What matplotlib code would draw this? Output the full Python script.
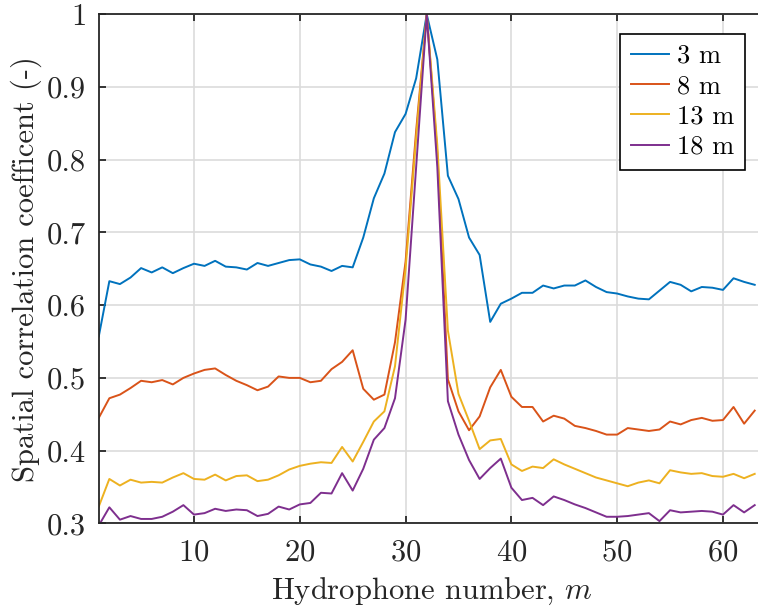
import numpy as np
import matplotlib
matplotlib.use("Agg")
import matplotlib.pyplot as plt

plt.rcParams['font.family'] = 'serif'
plt.rcParams['font.serif'] = ['cmr10', 'DejaVu Serif']
plt.rcParams['mathtext.fontset'] = 'cm'
plt.rcParams['axes.formatter.use_mathtext'] = True

# hydrophone index 1..63
hydrophone = np.arange(1, 64)

corr_3m = [0.557, 0.633, 0.629, 0.638, 0.651, 0.645, 0.652, 0.644, 0.651, 0.657,
           0.654, 0.661, 0.653, 0.652, 0.649, 0.658, 0.654, 0.658, 0.662, 0.663,
           0.656, 0.653, 0.647, 0.654, 0.652, 0.693, 0.747, 0.781, 0.838, 0.863,
           0.912, 1.000, 0.938, 0.778, 0.746, 0.693, 0.669, 0.577, 0.602, 0.609,
           0.617, 0.617, 0.627, 0.623, 0.627, 0.627, 0.634, 0.625, 0.618, 0.616,
           0.612, 0.609, 0.608, 0.620, 0.632, 0.628, 0.619, 0.625, 0.624, 0.621,
           0.637, 0.632, 0.628]

corr_8m = [0.445, 0.472, 0.477, 0.486, 0.496, 0.494, 0.497, 0.491, 0.500, 0.506,
           0.511, 0.513, 0.504, 0.496, 0.490, 0.483, 0.488, 0.502, 0.500, 0.500,
           0.494, 0.496, 0.512, 0.522, 0.538, 0.485, 0.470, 0.477, 0.549, 0.660,
           0.840, 1.000, 0.810, 0.498, 0.454, 0.428, 0.447, 0.487, 0.511, 0.474,
           0.460, 0.460, 0.440, 0.448, 0.444, 0.434, 0.431, 0.427, 0.422, 0.422,
           0.431, 0.429, 0.427, 0.429, 0.440, 0.436, 0.442, 0.445, 0.441, 0.442,
           0.460, 0.437, 0.455]

corr_13m = [0.323, 0.361, 0.352, 0.360, 0.356, 0.357, 0.356, 0.363, 0.369, 0.361,
            0.360, 0.367, 0.359, 0.365, 0.366, 0.358, 0.360, 0.366, 0.374, 0.379,
            0.382, 0.384, 0.383, 0.405, 0.385, 0.412, 0.440, 0.454, 0.516, 0.650,
            0.830, 1.000, 0.820, 0.565, 0.478, 0.441, 0.402, 0.414, 0.416, 0.381,
            0.372, 0.378, 0.376, 0.388, 0.381, 0.375, 0.369, 0.363, 0.359, 0.355,
            0.351, 0.356, 0.359, 0.355, 0.373, 0.370, 0.368, 0.369, 0.365, 0.364,
            0.368, 0.362, 0.368]

corr_18m = [0.297, 0.322, 0.305, 0.310, 0.306, 0.306, 0.309, 0.316, 0.325, 0.312,
            0.314, 0.320, 0.317, 0.319, 0.318, 0.310, 0.313, 0.323, 0.319, 0.326,
            0.328, 0.342, 0.341, 0.369, 0.345, 0.375, 0.415, 0.431, 0.472, 0.580,
            0.790, 1.000, 0.790, 0.468, 0.422, 0.387, 0.361, 0.376, 0.389, 0.349,
            0.332, 0.335, 0.325, 0.337, 0.332, 0.326, 0.321, 0.315, 0.309, 0.309,
            0.310, 0.312, 0.314, 0.303, 0.318, 0.315, 0.316, 0.317, 0.316, 0.312,
            0.325, 0.315, 0.325]

labels = ['3 m', '8 m', '13 m', '18 m']
colors = ['#0072BD', '#D95319', '#EDB120', '#7E2F8E']

yticks = [0.3, 0.4, 0.5, 0.6, 0.7, 0.8, 0.9, 1.0]
ytick_labels = ['0.3', '0.4', '0.5', '0.6', '0.7', '0.8', '0.9', '1']
xticks = [10, 20, 30, 40, 50, 60]

fig = plt.figure(figsize=(7.58, 6.09), dpi=100)
ax = fig.add_axes([0.1303, 0.1407, 0.8793, 0.8358])

for series, lab, c in zip([corr_3m, corr_8m, corr_13m, corr_18m], labels, colors):
    ax.plot(hydrophone, series, color=c, lw=1.4, label=lab)

ax.set_xlim(1, 64)
ax.set_ylim(0.3, 1.0)
ax.set_xticks(xticks)
ax.set_yticks(yticks)
ax.set_yticklabels(ytick_labels)
ax.grid(True, color='#dcdcdc', lw=1.2)
ax.set_axisbelow(True)
ax.tick_params(direction='in', length=5, width=1.3, top=True, right=True,
               labelsize=22, colors='#262626', labelcolor='#262626', pad=9)
ax.tick_params(axis='x', pad=11)
for s in ax.spines.values():
    s.set_color('#262626')
    s.set_linewidth(1.3)

ax.set_xlabel('Hydrophone number, $m$', fontsize=22, color='#262626', labelpad=7)
ax.set_ylabel('Spatial correlation coefficent (-)', fontsize=22, color='#262626', labelpad=4)

leg = ax.legend(loc='upper right', bbox_to_anchor=(0.9828, 0.9447),
                bbox_transform=fig.transFigure, fontsize=19, fancybox=False,
                framealpha=1, edgecolor='black', handlelength=1.45,
                labelspacing=0.25, borderpad=0.4, handletextpad=0.3,
                borderaxespad=0)
leg.get_frame().set_linewidth(1.2)

fig.savefig('out.png', dpi=100)
